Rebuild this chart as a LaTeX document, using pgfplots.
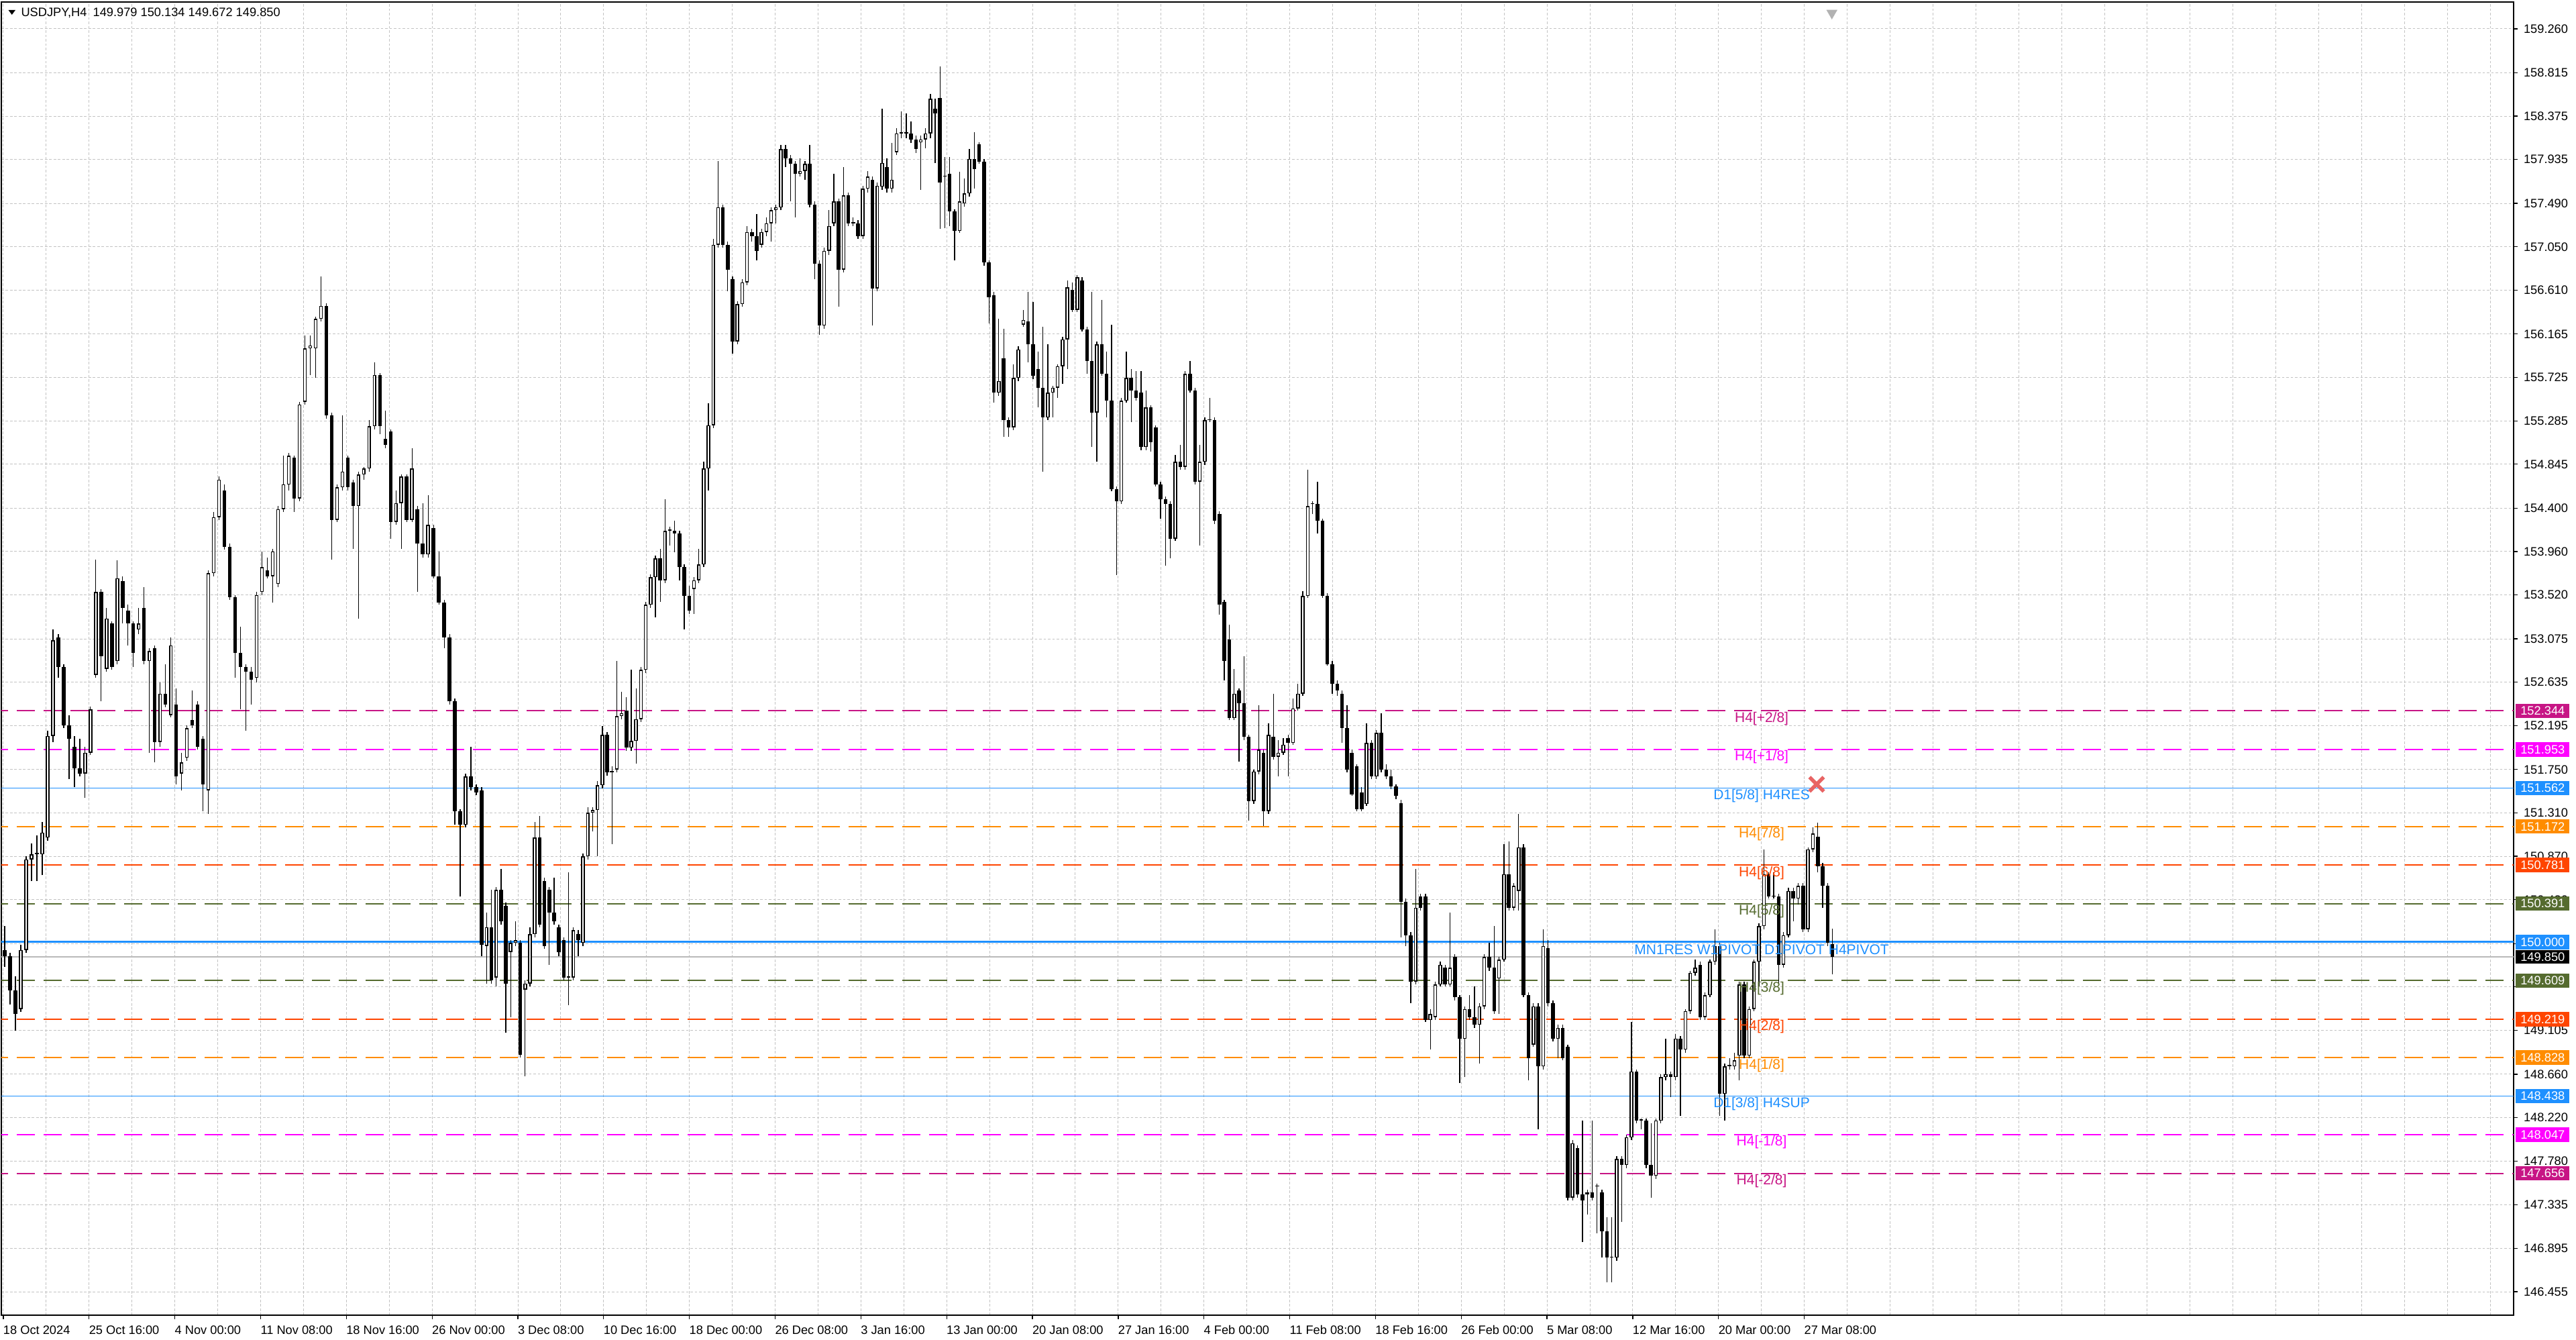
\documentclass[border=0pt]{standalone}
\usepackage{pgfplots}
\pgfplotsset{compat=1.18}
\usepackage{pgfplotstable}
\usepackage{fontspec}
\newfontfamily\mt{Liberation Sans}
\newcommand\tk{\mt\fontsize{3.65pt}{4.2pt}\selectfont}
\newcommand\lbl{\mt\fontsize{4.2pt}{5pt}\selectfont}
\definecolor{vred}{RGB}{199,21,133}
\definecolor{mag}{RGB}{255,0,255}
\definecolor{dblue}{RGB}{30,144,255}
\definecolor{dorange}{RGB}{255,140,0}
\definecolor{ored}{RGB}{255,69,0}
\definecolor{olv}{RGB}{85,107,47}
\definecolor{gridc}{RGB}{195,195,195}
\definecolor{xred}{RGB}{232,100,100}

\pgfplotstableread{
o h l c
149.92 150.16 149.75 149.86
149.86 149.89 149.37 149.51
149.51 149.65 149.10 149.27
149.32 149.97 149.29 149.92
149.92 150.87 149.89 150.84
150.84 151.00 150.62 150.89
150.89 151.08 150.62 150.89
150.89 151.22 150.68 151.11
151.06 152.14 151.03 152.09
152.09 153.17 152.03 153.06
153.09 153.12 152.68 152.79
152.79 152.82 152.17 152.20
152.20 152.30 151.65 152.06
151.98 152.09 151.57 151.76
151.76 152.06 151.68 151.71
151.71 151.98 151.46 151.92
151.92 152.39 151.90 152.36
152.71 153.88 152.68 153.55
153.55 153.58 152.44 152.90
152.77 153.39 152.74 153.28
153.23 153.25 152.76 152.79
152.85 153.87 152.82 153.69
153.66 153.71 153.23 153.39
153.36 153.42 153.01 153.23
153.23 153.25 152.79 152.93
153.17 153.39 153.12 153.23
153.39 153.60 152.82 152.85
152.85 152.98 151.92 152.95
152.98 153.01 151.82 152.03
152.03 152.63 151.98 152.52
152.52 152.82 152.38 152.41
152.30 153.09 152.28 153.01
152.41 152.57 151.60 151.68
151.71 151.92 151.54 151.82
151.87 152.20 151.84 152.17
152.25 152.55 152.17 152.20
152.41 152.44 151.95 151.98
152.06 152.09 151.33 151.60
151.54 153.77 151.30 153.74
153.74 154.36 153.71 154.31
154.31 154.72 154.28 154.69
154.58 154.64 153.98 154.01
154.01 154.04 153.47 153.50
153.50 153.52 152.68 152.93
152.93 153.20 152.36 152.79
152.79 152.82 152.14 152.74
152.74 152.79 152.41 152.66
152.68 153.55 152.63 153.52
153.55 153.96 153.52 153.80
153.77 153.90 153.69 153.71
153.71 153.99 153.44 153.96
153.63 154.42 153.60 154.39
154.39 154.93 154.36 154.64
154.64 154.96 154.58 154.93
154.91 154.93 154.36 154.50
154.50 155.48 154.47 155.45
155.48 156.15 155.45 156.02
156.02 156.15 155.75 156.05
156.02 156.34 155.72 156.32
156.32 156.75 156.29 156.45
156.45 156.48 155.31 155.34
155.34 155.37 153.88 154.28
154.28 154.64 154.26 154.61
154.61 155.34 154.58 154.77
154.91 154.93 154.58 154.61
154.66 154.69 153.99 154.42
154.42 154.77 153.28 154.74
154.74 154.82 154.69 154.80
154.80 155.29 154.77 155.23
155.23 155.88 155.20 155.75
155.75 155.77 155.15 155.23
155.10 155.39 155.01 155.04
155.18 155.20 154.09 154.26
154.26 154.58 154.23 154.45
154.45 154.74 153.99 154.72
154.72 154.74 154.26 154.28
154.28 155.01 154.26 154.80
154.39 154.42 153.55 154.04
154.04 154.45 153.90 153.93
153.93 154.53 153.90 154.23
154.20 154.23 153.69 153.71
153.71 153.96 153.42 153.44
153.44 153.47 152.98 153.09
153.09 153.12 152.41 152.44
152.44 152.47 151.19 151.33
151.33 151.35 150.46 151.19
151.19 151.71 151.16 151.68
151.68 151.98 151.54 151.57
151.57 151.60 151.49 151.52
151.54 151.57 149.86 149.97
}\tA

\pgfplotstableread{
o h l c
149.96 150.30 149.58 150.15
150.15 150.53 149.58 149.61
149.64 150.56 149.55 150.53
150.53 150.74 150.18 150.21
150.37 150.40 149.08 149.58
149.90 150.02 149.24 149.99
149.99 150.21 149.96 150.02
149.99 150.02 148.83 148.86
149.52 149.61 148.64 149.58
149.58 150.15 149.55 150.08
150.08 151.22 150.05 151.06
151.06 151.28 150.15 150.18
150.62 150.65 149.93 149.96
150.53 150.56 149.77 150.30
150.30 150.65 150.18 150.21
150.15 150.18 149.86 149.90
150.02 150.05 149.61 149.64
149.64 150.71 149.36 149.64
149.64 150.15 149.61 150.12
150.08 150.12 149.86 150.02
149.99 150.90 149.96 150.87
150.87 151.37 150.84 151.31
151.31 151.37 151.12 151.34
151.34 151.63 150.87 151.59
151.59 152.19 151.56 152.10
152.10 152.13 151.69 151.72
151.72 151.78 150.99 151.72
151.75 152.85 151.72 152.29
152.29 152.54 152.26 152.32
152.35 152.48 151.94 151.97
151.97 152.76 151.94 152.04
152.04 152.57 151.81 152.26
152.26 152.79 152.23 152.76
152.76 153.45 152.73 153.42
153.42 153.73 153.39 153.70
153.70 153.92 153.29 153.89
153.89 153.99 153.45 153.67
153.67 154.49 153.64 154.17
154.17 154.21 154.02 154.17
154.17 154.27 153.95 154.14
154.14 154.17 153.67 153.80
153.80 153.83 153.17 153.51
153.51 153.61 153.33 153.36
153.58 153.70 153.33 153.67
153.67 153.99 153.64 153.83
153.83 154.87 153.80 154.80
154.80 155.46 154.58 155.24
155.24 157.13 155.21 157.07
157.07 157.92 157.04 157.45
157.45 157.48 157.04 157.07
157.07 157.10 156.60 156.82
156.72 156.75 155.97 156.09
156.09 156.50 156.06 156.47
156.47 156.72 156.44 156.69
156.69 157.26 156.66 157.20
157.20 157.23 157.10 157.16
157.16 157.38 156.91 157.01
157.07 157.23 157.04 157.20
157.20 157.35 157.16 157.29
157.29 157.45 157.10 157.42
157.42 157.48 157.29 157.45
157.45 158.08 157.42 158.04
158.04 158.08 157.86 157.95
157.95 157.98 157.51 157.89
157.89 157.92 157.35 157.79
157.79 157.95 157.76 157.82
157.82 157.92 157.73 157.89
157.89 158.08 157.45 157.48
157.48 157.51 156.72 156.88
156.88 156.91 156.16 156.25
156.25 157.04 156.22 157.01
157.01 157.42 156.97 157.26
157.29 157.79 157.26 157.51
157.51 157.54 156.44 156.82
156.82 157.86 156.79 157.57
157.57 157.60 157.26 157.29
157.29 157.35 157.26 157.29
157.29 157.32 157.13 157.16
157.16 157.67 157.13 157.64
157.64 157.82 157.60 157.76
157.73 157.76 156.25 156.63
156.63 157.70 156.60 157.67
157.66 158.45 157.63 157.90
157.86 157.95 157.60 157.64
157.64 158.10 157.60 157.73
158.01 158.25 157.98 158.20
158.20 158.42 158.15 158.20
158.20 158.40 158.15 158.20
158.20 158.32 158.10 158.14
158.14 158.18 158.00 158.04
158.11 158.18 157.63 158.14
158.14 158.25 158.05 158.20
158.20 158.60 158.15 158.55
158.45 158.55 157.90 158.40
158.56 158.88 157.23 157.70
}\tB

\pgfplotstableread{
o h l c
157.76 157.96 157.24 157.76
157.79 157.96 157.26 157.41
157.41 157.43 156.91 157.21
157.21 157.81 157.19 157.51
157.49 157.74 157.46 157.59
157.59 158.04 157.56 157.94
157.94 158.21 157.64 157.84
158.09 158.11 157.89 157.91
157.91 157.94 156.86 156.89
156.89 156.91 156.27 156.54
156.56 156.59 155.47 155.57
155.57 156.32 155.54 155.69
155.92 156.22 155.12 155.29
155.29 155.32 155.12 155.22
155.22 155.86 155.19 155.72
155.72 156.04 155.69 156.01
156.26 156.41 156.24 156.31
156.29 156.59 155.88 156.06
156.06 156.49 155.71 155.74
155.81 155.99 155.42 155.62
155.62 156.24 154.77 155.32
155.32 156.06 155.29 155.57
155.57 155.64 155.32 155.62
155.62 155.86 155.52 155.84
155.84 156.14 155.66 156.11
156.11 156.71 155.81 156.64
156.61 156.69 156.39 156.41
156.41 156.76 156.39 156.74
156.71 156.74 156.19 156.21
156.21 156.24 155.76 155.89
155.89 156.59 155.02 155.37
155.37 156.09 154.87 156.06
156.06 156.51 155.74 155.76
155.76 155.99 155.32 155.49
155.49 156.26 154.57 154.59
154.59 154.62 153.72 154.47
154.47 155.52 154.44 155.49
155.49 155.99 155.47 155.72
155.72 155.81 155.27 155.59
155.59 155.79 155.49 155.52
155.57 155.79 154.99 155.02
155.02 155.59 154.99 155.42
155.42 155.44 154.97 155.07
155.22 155.24 154.62 154.64
154.64 154.67 154.29 154.49
154.49 154.52 153.82 154.44
154.44 154.47 153.89 154.09
154.09 154.94 154.07 154.87
154.87 155.04 154.79 154.82
154.82 155.79 154.79 155.76
155.76 155.89 155.57 155.59
155.59 155.62 154.64 154.67
154.67 155.04 154.02 154.87
154.87 155.32 154.84 155.29
155.29 155.52 155.27 155.29
155.29 155.32 154.24 154.27
154.34 154.37 153.32 153.42
153.45 153.47 152.65 152.85
153.07 153.22 152.25 152.27
152.27 152.77 152.25 152.52
152.55 152.57 151.83 152.42
152.42 152.90 152.05 152.08
152.08 152.10 151.23 151.43
151.43 151.75 151.40 151.73
151.73 152.40 151.70 151.95
151.92 151.95 151.18 151.33
151.33 152.22 151.30 152.10
152.08 152.52 151.85 151.88
151.88 152.05 151.68 151.92
151.92 152.07 151.90 152.00
152.07 152.10 151.68 152.02
152.02 152.47 152.00 152.37
152.37 152.62 152.35 152.52
152.52 153.56 152.50 153.51
153.51 154.79 153.49 154.42
154.44 154.47 154.34 154.44
154.44 154.67 154.14 154.27
154.27 154.29 153.49 153.51
153.51 153.54 152.80 152.82
152.82 152.85 152.52 152.62
152.62 152.65 152.50 152.55
152.52 152.55 152.02 152.17
152.17 152.40 151.72 151.75
151.92 151.95 151.48 151.50
151.78 151.80 151.33 151.35
151.52 151.57 151.33 151.35
151.40 152.22 151.38 152.02
152.02 152.05 151.65 151.68
151.68 152.15 151.65 152.12
152.12 152.32 151.72 151.75
151.75 151.80 151.65 151.68
151.68 151.75 151.55 151.58
151.58 151.60 151.45 151.48
}\tC

\pgfplotstableread{
o h l c
151.41 151.44 150.05 150.41
150.41 150.44 149.96 150.07
150.07 150.10 149.38 149.60
149.60 150.74 149.57 150.35
150.46 150.49 150.32 150.35
150.46 150.49 149.19 149.21
149.21 149.32 148.91 149.27
149.24 149.60 149.21 149.57
149.57 149.80 149.55 149.77
149.74 149.77 149.55 149.57
149.57 150.30 149.55 149.74
149.85 149.88 149.41 149.44
149.44 149.46 148.57 149.02
149.02 149.35 148.63 149.32
149.32 149.46 149.21 149.24
149.24 149.55 149.13 149.16
149.16 149.38 148.77 149.35
149.35 149.88 149.32 149.85
149.85 149.99 149.71 149.74
149.74 150.16 149.27 149.30
149.63 149.85 149.27 149.82
149.82 150.99 149.80 150.69
150.69 151.02 150.32 150.35
150.35 150.60 150.32 150.57
150.52 151.30 150.32 150.96
150.96 150.99 149.44 149.46
149.46 149.49 148.60 148.82
148.96 149.38 148.94 149.35
149.35 149.38 148.10 148.74
148.74 150.13 148.71 149.96
149.94 150.02 149.35 149.38
149.38 149.41 148.99 149.02
149.02 149.16 148.82 149.13
149.13 149.16 148.80 148.82
148.94 148.96 147.38 147.41
147.41 147.99 147.38 147.96
147.91 147.94 147.41 147.44
147.44 148.19 146.96 147.38
147.44 147.49 147.24 147.46
147.46 148.19 147.38 147.41
147.52 147.55 147.05 147.52
147.46 147.49 146.80 147.07
147.07 147.21 146.55 146.80
146.80 147.21 146.55 146.80
146.80 147.83 146.77 147.80
147.80 147.83 147.16 147.74
147.74 148.05 147.71 148.02
148.02 149.19 147.99 148.69
148.69 148.71 148.16 148.19
148.19 148.21 148.10 148.19
148.19 148.21 147.71 147.74
147.74 148.16 147.41 147.63
147.63 148.21 147.60 148.19
148.19 148.66 148.16 148.63
148.63 149.02 148.60 148.66
148.66 148.69 148.43 148.63
148.63 149.07 148.60 149.02
149.02 149.05 148.24 148.91
148.91 149.32 148.88 149.30
149.30 149.71 149.27 149.69
149.69 149.82 149.66 149.74
149.77 149.80 149.21 149.24
149.24 149.49 149.21 149.46
149.46 149.82 149.44 149.80
149.80 150.13 149.77 149.96
149.96 149.99 148.24 148.46
148.46 148.77 148.19 148.74
148.74 148.82 148.71 148.74
148.74 148.88 148.71 148.80
148.85 149.60 148.60 149.57
149.57 149.60 148.82 148.85
148.85 149.35 148.82 149.32
149.32 149.82 149.30 149.80
149.80 150.19 149.55 150.16
150.16 150.94 150.13 150.69
150.69 150.71 150.44 150.46
150.46 150.71 150.44 150.46
150.46 150.49 149.57 149.77
149.77 150.10 149.74 150.07
150.07 150.55 150.05 150.52
150.52 150.55 150.21 150.44
150.44 150.60 150.38 150.57
150.57 150.60 150.10 150.13
150.13 150.96 150.10 150.94
150.94 151.16 150.91 151.10
151.07 151.21 150.71 150.77
150.77 150.80 150.35 150.57
150.57 150.60 149.96 149.99
149.979 150.134 149.672 149.850
}\tD

% candles: table, first x, step
\newcommand{\candles}[3]{%
  \addplot[draw=none, mark=none, forget plot, error bars/.cd, y dir=plus, y explicit, error mark=none,
    error bar style={draw=black, solid, line width=0.26pt}]
    table[x expr={#2+#3*\coordindex}, y=l, y error expr={\thisrow{h}-\thisrow{l}}] {#1};
  \addplot[draw=none, mark=none, forget plot, error bars/.cd, y dir=plus, y explicit, error mark=none,
    error bar style={draw=black, solid, line width=1.1pt}]
    table[x expr={#2+#3*\coordindex}, y expr={min(\thisrow{o},\thisrow{c})}, y error expr={max(abs(\thisrow{c}-\thisrow{o}),0.012)}] {#1};
  \addplot[draw=none, mark=none, forget plot, error bars/.cd, y dir=plus, y explicit, error mark=none,
    error bar style={draw=white, solid, line width=0.46pt}]
    table[x expr={#2+#3*\coordindex}, y expr={\thisrow{o}+0.01}, y error expr={max(\thisrow{c}-\thisrow{o}-0.02,0)}] {#1};
}
\newcommand{\lvl}[3]{\addplot[forget plot, draw=#1, #2] coordinates {(-5,#3) (945,#3)};}

\begin{document}
\begin{tikzpicture}
\fill[white] (0,0) rectangle (768pt,399.2pt);
\path[use as bounding box] (0,0) rectangle (768pt,399.2pt);
\begin{axis}[
  at={(0.4pt,7.2pt)}, anchor=south west,
  scale only axis, width=749pt, height=391.4pt,
  xmin=-0.75, xmax=936.7, ymin=146.217, ymax=159.532,
  axis line style={black, line width=0.4pt},
  tick style={black, line width=0.25pt},
  tick align=outside, major tick length=1.2pt, minor tick length=0pt,
  xtick pos=bottom, ytick pos=right, yticklabel pos=right,
  xtick={0,32,...,672},
  xticklabels={18 Oct 2024, 25 Oct 16:00, 4 Nov 00:00, 11 Nov 08:00, 18 Nov 16:00, 26 Nov 00:00, 3 Dec 08:00, 10 Dec 16:00, 18 Dec 00:00, 26 Dec 08:00, 3 Jan 16:00, 13 Jan 00:00, 20 Jan 08:00, 27 Jan 16:00, 4 Feb 00:00, 11 Feb 08:00, 18 Feb 16:00, 26 Feb 00:00, 5 Mar 08:00, 12 Mar 16:00, 20 Mar 00:00, 27 Mar 08:00},
  minor xtick={16,32,...,928},
  ytick={159.260,158.815,158.375,157.935,157.490,157.050,156.610,156.165,155.725,155.285,154.845,154.400,153.960,153.520,153.075,152.635,152.195,151.750,151.310,150.870,150.430,149.985,149.545,149.105,148.660,148.220,147.780,147.335,146.895,146.455},
  yticklabels={159.260,158.815,158.375,157.935,157.490,157.050,156.610,156.165,155.725,155.285,154.845,154.400,153.960,153.520,153.075,152.635,152.195,151.750,151.310,150.870,150.430,,,149.105,148.660,148.220,147.780,147.335,146.895,146.455},
  xmajorgrids, xminorgrids, ymajorgrids,
  grid style={draw=gridc, line width=0.2pt, dash pattern=on 0.75pt off 0.55pt},
  minor grid style={draw=gridc, line width=0.2pt, dash pattern=on 0.75pt off 0.55pt},
  xticklabel style={font=\tk, anchor=north west, inner sep=0pt, yshift=-1.7pt, xshift=-0.2pt},
  yticklabel style={font=\tk, anchor=west, inner sep=0pt, xshift=1.6pt},
]
% level lines
\lvl{vred}{line width=0.4pt, dash pattern=on 5.4pt off 2.6pt}{152.344}
\lvl{mag}{line width=0.4pt, dash pattern=on 5.4pt off 2.6pt}{151.953}
\lvl{dblue}{line width=0.35pt}{151.562}
\lvl{dorange}{line width=0.4pt, dash pattern=on 5.4pt off 2.6pt}{151.172}
\lvl{ored}{line width=0.4pt, dash pattern=on 5.4pt off 2.6pt}{150.781}
\lvl{olv}{line width=0.4pt, dash pattern=on 5.4pt off 2.6pt}{150.391}
\lvl{dblue}{line width=0.6pt}{150.000}
\lvl{gray!55}{line width=0.25pt}{149.850}
\lvl{olv}{line width=0.4pt, dash pattern=on 5.4pt off 2.6pt}{149.609}
\lvl{ored}{line width=0.4pt, dash pattern=on 5.4pt off 2.6pt}{149.219}
\lvl{dorange}{line width=0.4pt, dash pattern=on 5.4pt off 2.6pt}{148.828}
\lvl{dblue}{line width=0.35pt}{148.438}
\lvl{mag}{line width=0.4pt, dash pattern=on 5.4pt off 2.6pt}{148.047}
\lvl{vred}{line width=0.4pt, dash pattern=on 5.4pt off 2.6pt}{147.656}

\candles{\tA}{0.5}{2}
\candles{\tB}{180.3}{1.8}
\candles{\tC}{351.3}{1.83}
\candles{\tD}{521.5}{1.83}

% level texts
\node[font=\lbl, text=vred, yshift=-2.3pt] at (axis cs:656.1,152.344) {H4[+2/8]};
\node[font=\lbl, text=mag, yshift=-2.3pt] at (axis cs:656.1,151.953) {H4[+1/8]};
\node[font=\lbl, text=dblue, yshift=-2.3pt] at (axis cs:656.1,151.562) {D1[5/8] H4RES};
\node[font=\lbl, text=dorange, yshift=-2.3pt] at (axis cs:656.1,151.172) {H4[7/8]};
\node[font=\lbl, text=ored, yshift=-2.3pt] at (axis cs:656.1,150.781) {H4[6/8]};
\node[font=\lbl, text=olv, yshift=-2.3pt] at (axis cs:656.1,150.391) {H4[5/8]};
\node[font=\lbl, text=dblue, yshift=-2.3pt] at (axis cs:656.1,150.000) {MN1RES W1PIVOT D1PIVOT H4PIVOT};
\node[font=\lbl, text=olv, yshift=-2.3pt] at (axis cs:656.1,149.609) {H4[3/8]};
\node[font=\lbl, text=ored, yshift=-2.3pt] at (axis cs:656.1,149.219) {H4[2/8]};
\node[font=\lbl, text=dorange, yshift=-2.3pt] at (axis cs:656.1,148.828) {H4[1/8]};
\node[font=\lbl, text=dblue, yshift=-2.3pt] at (axis cs:656.1,148.438) {D1[3/8] H4SUP};
\node[font=\lbl, text=mag, yshift=-2.3pt] at (axis cs:656.1,148.047) {H4[-1/8]};
\node[font=\lbl, text=vred, yshift=-2.3pt] at (axis cs:656.1,147.656) {H4[-2/8]};

% red cross object and shift marker
\addplot[only marks, forget plot, mark=x, mark size=3pt, mark options={draw=xred, line width=1.1pt}] coordinates {(676.6,151.60)};
\addplot[only marks, forget plot, mark=triangle*, mark size=1.5pt, mark options={rotate=180, fill=gray!60, draw=gray!60}] coordinates {(682.3,159.42)};

\coordinate (r1) at (axis cs:936.7,152.344);
\coordinate (r2) at (axis cs:936.7,151.953);
\coordinate (r3) at (axis cs:936.7,151.562);
\coordinate (r4) at (axis cs:936.7,151.172);
\coordinate (r5) at (axis cs:936.7,150.781);
\coordinate (r6) at (axis cs:936.7,150.391);
\coordinate (r7) at (axis cs:936.7,150.000);
\coordinate (r8) at (axis cs:936.7,149.850);
\coordinate (r9) at (axis cs:936.7,149.609);
\coordinate (r10) at (axis cs:936.7,149.219);
\coordinate (r11) at (axis cs:936.7,148.828);
\coordinate (r12) at (axis cs:936.7,148.438);
\coordinate (r13) at (axis cs:936.7,148.047);
\coordinate (r14) at (axis cs:936.7,147.656);
\end{axis}

\tikzset{pbox/.style={anchor=west, xshift=0.45pt, minimum width=16pt, minimum height=4.3pt, inner sep=0pt, text=white, font=\tk}}
\node[pbox, fill=vred] at (r1) {152.344};
\node[pbox, fill=mag] at (r2) {151.953};
\node[pbox, fill=dblue] at (r3) {151.562};
\node[pbox, fill=dorange] at (r4) {151.172};
\node[pbox, fill=ored] at (r5) {150.781};
\node[pbox, fill=olv] at (r6) {150.391};
\node[pbox, fill=dblue] at (r7) {150.000};
\node[pbox, fill=black, minimum height=4.0pt] at (r8) {149.850};
\node[pbox, fill=olv] at (r9) {149.609};
\node[pbox, fill=ored] at (r10) {149.219};
\node[pbox, fill=dorange] at (r11) {148.828};
\node[pbox, fill=dblue] at (r12) {148.438};
\node[pbox, fill=mag] at (r13) {148.047};
\node[pbox, fill=vred] at (r14) {147.656};

% title
\fill[black] (2.5pt,396.2pt) -- (4.6pt,396.2pt) -- (3.55pt,394.8pt) -- cycle;
\node[anchor=west, inner sep=0pt, font=\tk] at (6.1pt,395.4pt) {USDJPY,H4\enspace 149.979 150.134 149.672 149.850};
\end{tikzpicture}
\end{document}
